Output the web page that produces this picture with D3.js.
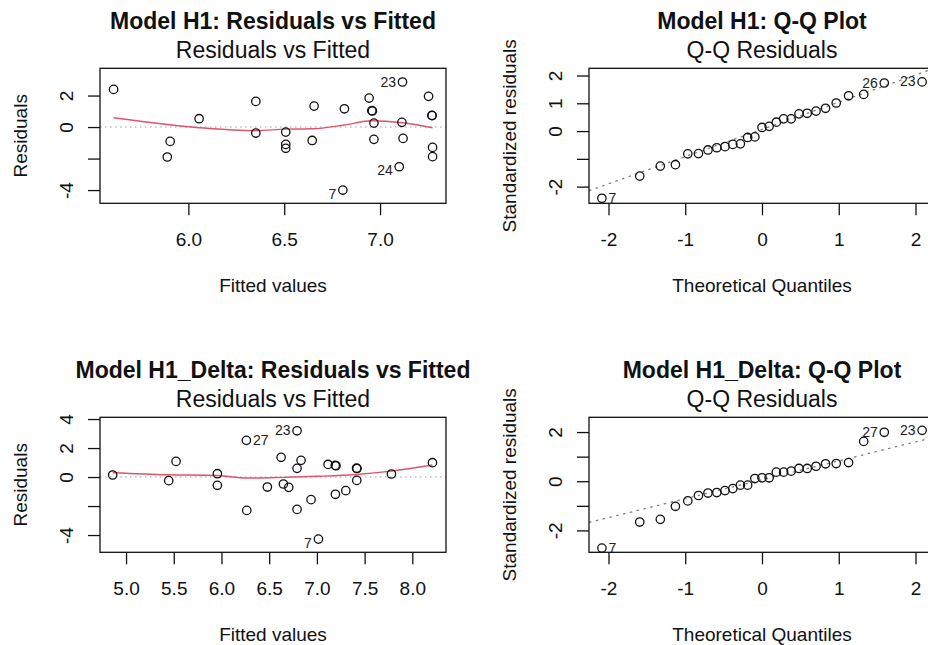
<!DOCTYPE html>
<html><head><meta charset="utf-8">
<script src="https://cdn.jsdelivr.net/npm/d3@7"></script>
<style>
body{margin:0;background:#fff;}
svg{display:block;font-family:"Liberation Sans",Arial,Helvetica,sans-serif;}
</style>
</head><body><div id="chart"></div>
<script>
// ---------- Model H1: residuals vs fitted ----------
const fitted1 = [5.61, 5.905, 5.89, 6.056, 6.352, 6.352, 6.508, 6.508, 6.508, 6.656, 6.646, 6.814, 6.806, 6.943, 6.957, 6.960, 6.968, 6.968, 7.117, 7.114, 7.12, 7.10, 7.253, 7.27, 7.272, 7.274, 7.274];
const resid1  = [2.39, -0.91, -1.90, 0.53, 1.63, -0.38, -0.32, -1.10, -1.35, 1.33, -0.85, 1.16, -4.00, 1.84, 1.04, 1.02, 0.25, -0.78, 2.86, 0.30, -0.72, -2.52, 1.95, 0.74, 0.73, -1.29, -1.88];
const ids1    = ["", "", "", "", "", "", "", "", "", "", "", "", "7", "", "", "", "", "", "23", "", "", "24", "", "", "", "", ""];
const smooth1X = [5.61, 6.056, 6.352, 6.508, 6.646, 6.814, 6.957, 7.117, 7.274];
const smooth1Y = [0.59, -0.04, -0.23, -0.13, -0.11, 0.13, 0.40, 0.27, -0.04];

// ---------- Model H1_Delta: residuals vs fitted ----------
const fitted2 = [4.86, 5.447, 5.524, 5.957, 5.957, 6.261, 6.265, 6.481, 6.625, 6.649, 6.705, 6.792, 6.834, 6.792, 6.792, 6.939, 7.016, 7.117, 7.192, 7.200, 7.194, 7.303, 7.416, 7.420, 7.418, 7.781, 8.211];
const resid2  = [0.14, -0.25, 1.08, 0.23, -0.57, 2.53, -2.30, -0.69, 1.36, -0.48, -0.71, 3.19, 1.15, 0.60, -2.23, -1.56, -4.28, 0.87, 0.80, 0.78, -1.19, -0.94, 0.61, 0.59, -0.23, 0.21, 0.99];
const ids2    = ["", "", "", "", "", "27", "", "", "", "", "", "23", "", "", "", "", "7", "", "", "", "", "", "", "", "", "", ""];
const smooth2X = [4.86, 5.427, 5.951, 6.265, 6.649, 6.999, 7.418, 7.781, 8.211];
const smooth2Y = [0.30, 0.16, 0.11, -0.07, -0.02, 0.05, 0.18, 0.41, 0.83];

// ---------- Q-Q plots ----------
const theoQ = [-2.086, -1.593, -1.325, -1.128, -0.967, -0.828, -0.704, -0.589, -0.482, -0.380, -0.282, -0.187, -0.093, 0, 0.093, 0.187, 0.282, 0.380, 0.482, 0.589, 0.704, 0.828, 0.967, 1.128, 1.325, 1.593, 2.086];
const qq1 = [-2.42, -1.62, -1.26, -1.21, -0.82, -0.81, -0.68, -0.60, -0.56, -0.48, -0.46, -0.23, -0.21, 0.13, 0.17, 0.32, 0.44, 0.44, 0.62, 0.64, 0.72, 0.82, 1.01, 1.27, 1.32, 1.73, 1.77];
const qqIds1 = ["7", "", "", "", "", "", "", "", "", "", "", "", "", "", "", "", "", "", "", "", "", "", "", "", "", "26", "23"];
const qqLine1 = [0.06, 0.98]; // intercept, slope
const qq2 = [-2.72, -1.66, -1.55, -1.02, -0.80, -0.58, -0.48, -0.46, -0.38, -0.30, -0.16, -0.16, 0.11, 0.14, 0.14, 0.37, 0.37, 0.41, 0.52, 0.52, 0.61, 0.71, 0.72, 0.76, 1.62, 1.99, 2.07];
const qqIds2 = ["7", "", "", "", "", "", "", "", "", "", "", "", "", "", "", "", "", "", "", "", "", "", "", "", "", "27", "23"];
const qqLine2 = [0.06, 0.77];

// ---------- ticks ----------
const xTicksRF1 = [6.0, 6.5, 7.0];
const xTicksRF2 = [5.0, 5.5, 6.0, 6.5, 7.0, 7.5, 8.0];
const xTicksQQ = [-2, -1, 0, 1, 2];
const yTicks1 = [-4, -2, 0, 2];      const yLabels1 = ["-4", "", "0", "2"];
const yTicks2 = [-2, -1, 0, 1, 2];   const yLabels2 = ["-2", "", "0", "1", "2"];
const yTicks3 = [-4, -2, 0, 2, 4];   const yLabels3 = ["-4", "", "0", "2", "4"];
const yTicks4 = [-2, -1, 0, 1, 2];   const yLabels4 = ["-2", "", "0", "", "2"];

const W = 928, H = 645;
const INK = "#111";
const svg = d3.select("#chart").append("svg").attr("width", W).attr("height", H);

function drawPanel(p) {
  const b = p.box;
  const g = svg.append("g");
  const x = d3.scaleLinear().domain(p.xDomain).range([b.left, b.right]);
  const y = d3.scaleLinear().domain(p.yDomain).range([b.bottom, b.top]);
  const clipId = "clip" + p.id;
  svg.append("clipPath").attr("id", clipId).append("rect")
    .attr("x", b.left).attr("y", b.top).attr("width", b.right - b.left).attr("height", b.bottom - b.top);
  const cx = (b.left + b.right) / 2, cy = (b.top + b.bottom) / 2;

  g.append("text").attr("x", cx).attr("y", b.top - 39).attr("text-anchor", "middle")
    .attr("font-size", 23).attr("font-weight", "bold").attr("fill", INK).text(p.title);
  g.append("text").attr("x", cx).attr("y", b.top - 10).attr("text-anchor", "middle")
    .attr("font-size", 23).attr("fill", INK).text(p.subtitle);
  g.append("text").attr("x", cx).attr("y", b.bottom + 89).attr("text-anchor", "middle")
    .attr("font-size", 19).attr("fill", INK).text(p.xTitle);
  g.append("text").attr("transform", `translate(${b.left - 73.5},${cy}) rotate(-90)`)
    .attr("text-anchor", "middle").attr("font-size", 19).attr("fill", INK).text(p.yTitle);

  const xa = g.append("g").attr("transform", `translate(0,${b.bottom})`)
    .call(d3.axisBottom(x).tickValues(p.xTicks).tickSize(12).tickSizeOuter(0)
      .tickFormat(d => p.xFmt(d)));
  xa.select(".domain").remove();
  xa.attr("font-size", 19).attr("font-family", null).attr("color", INK);
  xa.selectAll("line").attr("stroke-width", 1.3);
  xa.selectAll("text").attr("y", 42.7).attr("dy", 0);

  const ya = g.append("g").attr("transform", `translate(${b.left},0)`)
    .call(d3.axisLeft(y).tickValues(p.yTicks).tickSize(12).tickSizeOuter(0)
      .tickFormat((d, i) => p.yLabels[i]));
  ya.select(".domain").remove();
  ya.attr("font-size", 19).attr("font-family", null).attr("color", INK);
  ya.selectAll("line").attr("stroke-width", 1.3);
  ya.selectAll("text").attr("x", null).attr("dy", null).attr("text-anchor", "middle")
    .attr("transform", "translate(-27.5,0) rotate(-90)");

  const inner = g.append("g").attr("clip-path", `url(#${clipId})`);
  if (p.hline !== undefined) {
    inner.append("line").attr("x1", b.left).attr("x2", b.right)
      .attr("y1", y(p.hline)).attr("y2", y(p.hline))
      .attr("stroke", "#bebebe").attr("stroke-width", 1.4).attr("stroke-dasharray", "1.5,3.5");
  }
  if (p.abline) {
    const [a, s] = p.abline;
    const x0 = p.xDomain[0], x1 = p.xDomain[1];
    inner.append("line").attr("x1", x(x0)).attr("x2", x(x1))
      .attr("y1", y(a + s * x0)).attr("y2", y(a + s * x1))
      .attr("stroke", "#7f7f7f").attr("stroke-width", 1.3).attr("stroke-dasharray", "2.5,4.5");
  }
  if (p.smoothX) {
    const line = d3.line().x(d => x(d[0])).y(d => y(d[1])).curve(d3.curveMonotoneX);
    inner.append("path").attr("d", line(p.smoothX.map((v, i) => [v, p.smoothY[i]])))
      .attr("fill", "none").attr("stroke", "#DF536B").attr("stroke-width", 1.4);
  }

  g.append("g").selectAll("circle").data(p.xs).join("circle")
    .attr("cx", d => x(d)).attr("cy", (d, i) => y(p.ys[i])).attr("r", 4.2)
    .attr("fill", "none").attr("stroke", INK).attr("stroke-width", 1.3);

  const mid = (d3.min(p.xs) + d3.max(p.xs)) / 2;
  p.ids.forEach((id, i) => {
    if (!id) return;
    const px = x(p.xs[i]), py = y(p.ys[i]);
    const left = p.xs[i] > mid;
    const dy = (p.lowerNeg && p.ys[i] < 0) ? 8.5 : 4.5;
    g.append("text").attr("x", left ? px - 6.5 : px + 6.5).attr("y", py + dy)
      .attr("text-anchor", left ? "end" : "start").attr("font-size", 14)
      .attr("fill", "#222").text(id);
  });

  g.append("rect").attr("x", b.left).attr("y", b.top)
    .attr("width", b.right - b.left).attr("height", b.bottom - b.top)
    .attr("fill", "none").attr("stroke", INK).attr("stroke-width", 1.3);
}

const fmt1 = d3.format(".1f");
const fmtInt = d => String(d);

drawPanel({
  id: 1, box: {left: 100, right: 446, top: 68.3, bottom: 203.3},
  xDomain: [5.539, 7.344], yDomain: [-4.84, 3.73],
  xTicks: xTicksRF1, xFmt: fmt1, yTicks: yTicks1, yLabels: yLabels1,
  title: "Model H1: Residuals vs Fitted", subtitle: "Residuals vs Fitted",
  xTitle: "Fitted values", yTitle: "Residuals",
  xs: fitted1, ys: resid1, ids: ids1, hline: 0, smoothX: smooth1X, smoothY: smooth1Y, lowerNeg: true
});
drawPanel({
  id: 2, box: {left: 589, right: 935, top: 68.3, bottom: 203.3},
  xDomain: [-2.254, 2.254], yDomain: [-2.60, 2.26],
  xTicks: xTicksQQ, xFmt: fmtInt, yTicks: yTicks2, yLabels: yLabels2,
  title: "Model H1: Q-Q Plot", subtitle: "Q-Q Residuals",
  xTitle: "Theoretical Quantiles", yTitle: "Standardized residuals",
  xs: theoQ, ys: qq1, ids: qqIds1, abline: qqLine1
});
drawPanel({
  id: 3, box: {left: 100, right: 446, top: 417.3, bottom: 552.3},
  xDomain: [4.727, 8.353], yDomain: [-5.19, 4.12],
  xTicks: xTicksRF2, xFmt: fmt1, yTicks: yTicks3, yLabels: yLabels3,
  title: "Model H1_Delta: Residuals vs Fitted", subtitle: "Residuals vs Fitted",
  xTitle: "Fitted values", yTitle: "Residuals",
  xs: fitted2, ys: resid2, ids: ids2, hline: 0, smoothX: smooth2X, smoothY: smooth2Y, lowerNeg: true
});
drawPanel({
  id: 4, box: {left: 589, right: 935, top: 417.3, bottom: 552.3},
  xDomain: [-2.254, 2.254], yDomain: [-2.89, 2.60],
  xTicks: xTicksQQ, xFmt: fmtInt, yTicks: yTicks4, yLabels: yLabels4,
  title: "Model H1_Delta: Q-Q Plot", subtitle: "Q-Q Residuals",
  xTitle: "Theoretical Quantiles", yTitle: "Standardized residuals",
  xs: theoQ, ys: qq2, ids: qqIds2, abline: qqLine2
});
</script>
</body></html>
